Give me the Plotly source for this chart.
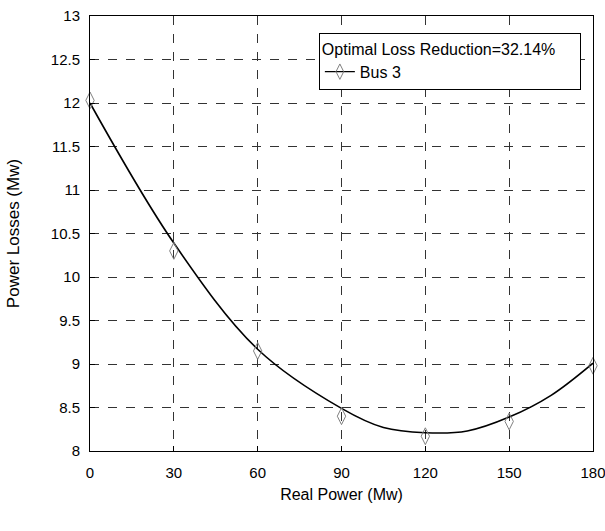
import plotly.graph_objects as go

# measured data points (markers)
bus3_x = [0, 30, 60, 90, 120, 150, 180]
bus3_y = [12.03, 10.3, 9.15, 8.4, 8.17, 8.34, 8.98]

# fitted smooth curve
curve_x = [0, 30, 60, 90, 105, 120, 135, 150, 165, 180]
curve_y = [12.0, 10.39, 9.17, 8.49, 8.27, 8.21, 8.23, 8.39, 8.64, 9.01]

x_ticks = [0, 30, 60, 90, 120, 150, 180]
y_ticks = [8, 8.5, 9, 9.5, 10, 10.5, 11, 11.5, 12, 12.5, 13]
y_tick_text = ["8", "8.5", "9", "9.5", "10", "10.5", "11", "11.5", "12", "12.5", "13"]

FONT = "Liberation Sans Narrow, Arial Narrow, Liberation Sans, Arial, sans-serif"

fig = go.Figure()
fig.add_trace(go.Scatter(
    x=curve_x, y=curve_y, mode="lines", line=dict(color="black", width=1.6, shape="spline", smoothing=1.0),
    showlegend=False, hoverinfo="skip", cliponaxis=False))
fig.add_trace(go.Scatter(
    x=bus3_x, y=bus3_y, mode="markers", cliponaxis=False,
    marker=dict(symbol="diamond-tall-open", size=12, color="#808080", line=dict(width=1, color="#808080")),
    showlegend=False))
fig.add_trace(go.Scatter(
    x=[None], y=[None], mode="lines+markers", name="Bus 3",
    line=dict(color="black", width=1.2),
    marker=dict(symbol="diamond-tall-open", size=11, color="#808080", line=dict(width=1, color="#808080"))))

axis_common = dict(
    showline=True, linecolor="black", linewidth=1, mirror=True,
    showgrid=True, gridcolor="#333333", griddash="dash", gridwidth=1,
    ticks="inside", ticklen=5, tickcolor="black",
    tickfont=dict(family=FONT, size=15, color="black"),
    zeroline=False, automargin=False, ticklabeloverflow="allow",
)

fig.update_layout(
    width=605, height=531,
    margin=dict(l=90, r=12, t=16, b=80),
    plot_bgcolor="white", paper_bgcolor="white",
    xaxis=dict(range=[0, 180], tickvals=x_ticks, ticklabelstandoff=8, **axis_common,
               title=dict(text="Real Power (Mw)", font=dict(family=FONT, size=16, color="black"), standoff=8)),
    yaxis=dict(range=[8, 13], tickvals=y_ticks, ticktext=y_tick_text, ticklabelstandoff=6, **axis_common,
               title=dict(text="Power Losses (Mw)", font=dict(family="Liberation Sans, Arial, sans-serif", size=17, color="black"), standoff=26)),
    legend=dict(
        x=0.455, y=0.961, xanchor="left", yanchor="top",
        bgcolor="white", bordercolor="black", borderwidth=1,
        font=dict(family=FONT, size=16, color="black"),
        title=dict(text="Optimal Loss Reduction=32.14%     ", font=dict(family=FONT, size=16, color="black"), side="top"),
        itemwidth=30, tracegroupgap=0,
    ),
)

fig.write_html("out.html", config={"displayModeBar": False},
               post_script="document.body.style.margin='0';document.body.style.padding='0';")
